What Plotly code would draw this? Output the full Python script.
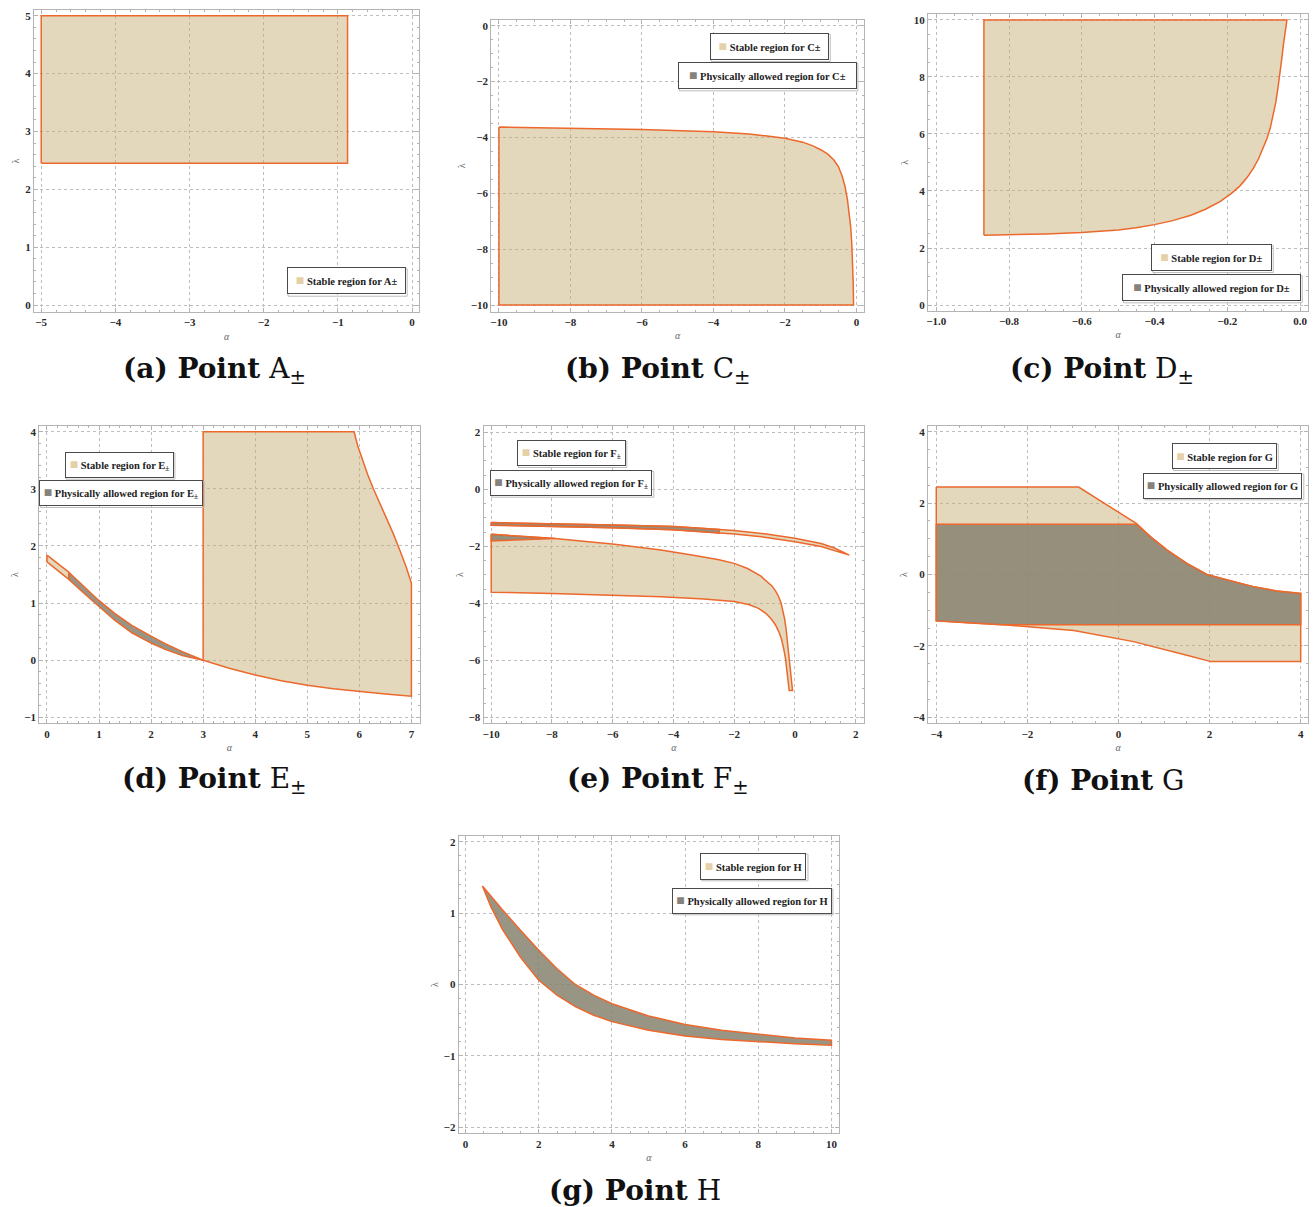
import plotly.graph_objects as go

W, H = 1314, 1207

# ---------------- data ----------------
# (a) Point A±
A_alpha = [-5.0, -0.87]
A_lambda = [2.45, 5.0]

# (b) Point C±  (upper boundary curve, bottom at lambda = -10)
C_alpha = [-10, -8, -6, -4, -3, -2.5, -2, -1.5, -1.2, -1.0, -0.8, -0.63, -0.5, -0.4, -0.32,
           -0.25, -0.2, -0.16, -0.13, -0.11, -0.09, -0.08]
C_lambda_top = [-3.63, -3.67, -3.72, -3.80, -3.88, -3.95, -4.03, -4.17, -4.31, -4.44, -4.6, -4.81,
                -5.05, -5.38, -5.75, -6.24, -6.7, -7.2, -7.8, -8.39, -9.2, -10.0]
C_lambda_bottom = -10.0

# (c) Point D±  (lower/right boundary curve, top at lambda = 10)
D_alpha = [-0.869, -0.8, -0.7, -0.6, -0.5, -0.45, -0.4, -0.35, -0.3, -0.26, -0.22, -0.19, -0.165,
           -0.145, -0.128, -0.114, -0.102, -0.091, -0.082, -0.074, -0.067, -0.061, -0.055, -0.05,
           -0.045, -0.04, -0.036]
D_lambda = [2.45, 2.46, 2.49, 2.54, 2.63, 2.71, 2.82, 2.96, 3.15, 3.36, 3.63, 3.90, 4.18,
            4.48, 4.8, 5.13, 5.47, 5.83, 6.2, 6.62, 7.08, 7.58, 8.1, 8.65,
            9.2, 9.65, 10.0]
D_lambda_top = 10.0

# (d) Point E±
E_strip_alpha = [0, 0.2, 0.42, 0.7, 0.99, 1.3, 1.63, 2.0, 2.27, 2.6, 3.0]
E_strip_upper = [1.84, 1.69, 1.54, 1.30, 1.05, 0.82, 0.61, 0.42, 0.29, 0.15, 0.0]
E_strip_lower = [1.72, 1.57, 1.415, 1.18, 0.94, 0.70, 0.48, 0.30, 0.19, 0.08, 0.0]
E_top_alpha = [3, 5.9, 5.97, 6.06, 6.16, 6.27, 6.39, 6.52, 6.65, 6.78, 6.9, 7.0]
E_top_lambda = [4, 4, 3.75, 3.5, 3.25, 3.0, 2.75, 2.5, 2.22, 1.92, 1.63, 1.35]
E_bottom_alpha = [3, 3.5, 4, 4.5, 5, 5.5, 6, 6.5, 7]
E_bottom_lambda = [0, -0.14, -0.26, -0.36, -0.44, -0.5, -0.55, -0.59, -0.63]

# (e) Point F±
F_band_alpha = [-10, -8, -6, -4, -2.49, -2, -1, 0, 0.86, 1.3, 1.79]
F_band_top = [-1.17, -1.20, -1.25, -1.31, -1.41, -1.45, -1.56, -1.72, -1.90, -2.06, -2.31]
F_band_bottom = [-1.26, -1.30, -1.35, -1.42, -1.53, -1.57, -1.68, -1.84, -2.01, -2.15, -2.31]
F_low_top_alpha = [-10, -7.9, -5.94, -4.41, -3.3, -2.5, -2.0, -1.56, -1.12, -0.9, -0.75, -0.63,
                   -0.54, -0.46, -0.40, -0.34, -0.29, -0.245, -0.205, -0.17, -0.14, -0.11, -0.08]
F_low_top_lambda = [-1.58, -1.73, -1.93, -2.13, -2.32, -2.47, -2.6, -2.78, -3.05, -3.24, -3.4, -3.58,
                    -3.76, -3.98, -4.22, -4.55, -4.92, -5.35, -5.8, -6.2, -6.55, -6.85, -7.06]
F_low_bot_alpha = [-10, -8, -6, -4.41, -3, -2.0, -1.5, -1.2, -0.95, -0.78, -0.64, -0.53, -0.44,
                   -0.37, -0.31, -0.26, -0.22, -0.19]
F_low_bot_lambda = [-3.61, -3.66, -3.71, -3.77, -3.85, -3.94, -4.05, -4.18, -4.36, -4.55, -4.76, -5.0,
                    -5.27, -5.6, -5.95, -6.35, -6.75, -7.06]
F_sliver_alpha = [-10, -9, -7.9]
F_sliver_top = [-1.58, -1.65, -1.73]
F_sliver_bottom = [-1.81, -1.77, -1.73]

# (f) Point G
G_top_alpha = [-4, -0.875, 0.39, 0.70, 1.06, 1.5, 1.94, 2.52, 2.96, 3.47, 4.0]
G_top_lambda = [2.45, 2.45, 1.43, 1.06, 0.69, 0.31, 0.0, -0.20, -0.34, -0.46, -0.53]
G_bot_alpha = [-4, -3.3, -2.59, -0.98, 0.33, 1.06, 1.5, 2.03, 4.0]
G_bot_lambda = [-1.30, -1.35, -1.40, -1.57, -1.88, -2.11, -2.26, -2.44, -2.44]
G_phys_top = 1.41
G_phys_bottom = -1.41

# (g) Point H
H_alpha = [0.46, 0.7, 1, 1.5, 2, 2.5, 3, 3.5, 4, 5, 6, 7, 8, 9, 10]
H_upper = [1.38, 1.23, 1.05, 0.76, 0.48, 0.22, 0.0, -0.15, -0.27, -0.44, -0.56, -0.64, -0.70, -0.75, -0.78]
H_lower = [1.38, 1.08, 0.78, 0.38, 0.06, -0.15, -0.31, -0.43, -0.52, -0.64, -0.72, -0.77, -0.80, -0.83, -0.85]

# ---------------- styles ----------------
TAN = "rgba(196,174,116,0.48)"
DARK = "rgba(135,130,112,0.85)"
ORANGE = "rgb(236,104,44)"
FRAME = "#b4b4b4"
GRID = "#bdbdbd"
LEG_TAN = "#e6d0a8"
LEG_DARK = "#86817a"
TICKFONT = dict(family="Liberation Serif", size=11, color="#2a2a2a", weight="bold")
CAPFONT = dict(family="DejaVu Serif", size=28, color="#111111")

fig = go.Figure()


def poly(xs, ys, fill, k, name):
    xs = list(xs) + [xs[0]]
    ys = list(ys) + [ys[0]]
    fig.add_trace(go.Scatter(
        x=xs, y=ys, mode="lines", fill="toself", fillcolor=fill,
        line=dict(color=ORANGE, width=1.5), name=name, showlegend=False,
        hoverinfo="skip", xaxis="x" + k, yaxis="y" + k))


# (a)
poly([A_alpha[0], A_alpha[1], A_alpha[1], A_alpha[0]],
     [A_lambda[0], A_lambda[0], A_lambda[1], A_lambda[1]], TAN, "", "Stable region for A±")
# (b)
poly(C_alpha + [C_alpha[-1], C_alpha[0]],
     C_lambda_top + [C_lambda_bottom, C_lambda_bottom], TAN, "2", "Stable region for C±")
# (c)
poly(D_alpha + [D_alpha[0]], D_lambda + [D_lambda_top], TAN, "3", "Stable region for D±")
# (d)
poly(E_strip_alpha[:3] + E_strip_alpha[:3][::-1], E_strip_upper[:3] + E_strip_lower[:3][::-1],
     TAN, "4", "Stable region for E±")
poly(E_strip_alpha[2:] + E_strip_alpha[2:][::-1], E_strip_upper[2:] + E_strip_lower[2:][::-1],
     DARK, "4", "Physically allowed region for E±")
poly(E_top_alpha + E_bottom_alpha[::-1], E_top_lambda + E_bottom_lambda[::-1],
     TAN, "4", "Stable region for E±")
# (e)
poly(F_band_alpha + F_band_alpha[::-1], F_band_top + F_band_bottom[::-1], TAN, "5", "Stable region for F±")
poly(F_band_alpha[:5] + F_band_alpha[:5][::-1], F_band_top[:5] + F_band_bottom[:5][::-1],
     DARK, "5", "Physically allowed region for F±")
poly(F_low_top_alpha + F_low_bot_alpha[::-1], F_low_top_lambda + F_low_bot_lambda[::-1],
     TAN, "5", "Stable region for F±")
poly(F_sliver_alpha + F_sliver_alpha[::-1], F_sliver_top + F_sliver_bottom[::-1],
     DARK, "5", "Physically allowed region for F±")
# (f)
poly(G_top_alpha + G_bot_alpha[::-1], G_top_lambda + G_bot_lambda[::-1], TAN, "6", "Stable region for G")
gx = [G_top_alpha[0], G_top_alpha[2]] + G_top_alpha[3:] + [G_top_alpha[-1], G_bot_alpha[2]] + G_bot_alpha[1::-1]
gy = [G_phys_top, G_phys_top] + G_top_lambda[3:] + [G_phys_bottom, G_phys_bottom] + G_bot_lambda[1::-1]
poly(gx, gy, DARK, "6", "Physically allowed region for G")
# (g)
poly(H_alpha + H_alpha[::-1], H_upper + H_lower[::-1], DARK, "7", "Physically allowed region for H")

# ---------------- axes ----------------
panels = [
    # key, px range, py range, x range, y range, x dtick, y dtick, x format
    ("", (32, 418), (10, 312), [-5.098, 0.098], [-0.121, 5.099], 1, 1, None),
    ("2", (490, 863.3), (20, 311.7), [-10.215, 0.212], [-10.24, 0.204], 2, 2, None),
    ("3", (927.3, 1308.3), (14, 310.7), [-1.023, 0.0228], [-0.2, 10.21], 0.2, 2, ".1f"),
    ("4", (37.3, 418.3), (425.7, 723.3), [-0.148, 7.159], [-1.105, 4.105], 1, 1, None),
    ("5", (482.3, 863.3), (425.7, 723.3), [-10.253, 2.273], [-8.21, 2.23], 2, 2, None),
    ("6", (927.3, 1308.3), (425.7, 723.3), [-4.184, 4.167], [-4.168, 4.168], 2, 2, None),
    ("7", (457.3, 838.3), (835.7, 1133.3), [-0.191, 10.207], [-2.084, 2.084], 2, 1, None),
]


def common(dt):
    return dict(
        showline=True, linecolor=FRAME, linewidth=1, mirror="allticks",
        ticks="inside", ticklen=4, tickwidth=1, tickcolor=FRAME,
        showgrid=True, gridcolor=GRID, griddash="3px,3px", gridwidth=1,
        zeroline=False, tickfont=TICKFONT, fixedrange=True, tick0=0, dtick=dt,
        minor=dict(ticks="inside", ticklen=2, tickcolor=FRAME, showgrid=False,
                   dtick=dt / 5 if dt == 1 else dt / 4),
    )


layout = {}
for k, (x0, x1), (y0, y1), xr, yr, xdt, ydt, xfmt in panels:
    xa = common(xdt)
    xa.update(domain=[x0 / W, x1 / W], range=xr, anchor="y" + k,
              title=dict(text="α", standoff=5,
                         font=dict(family="Liberation Serif", size=10, color="#666666", style="italic")))
    if xfmt:
        xa["tickformat"] = xfmt
    ya = common(ydt)
    ya.update(domain=[1 - y1 / H, 1 - y0 / H], range=yr, anchor="x" + k,
              title=dict(text="λ", standoff=3,
                         font=dict(family="Liberation Serif", size=10, color="#666666")))
    layout["xaxis" + k] = xa
    layout["yaxis" + k] = ya

fig.update_layout(**layout)

# ---------------- legends (boxes) ----------------
legends = [
    ((285, 404.3, 267.3, 294.7), LEG_TAN, "Stable region for A±"),
    ((708.7, 828, 32.7, 60), LEG_TAN, "Stable region for C±"),
    ((677, 855.7, 62, 89.3), LEG_DARK, "Physically allowed region for C±"),
    ((1151, 1271.7, 244.3, 271), LEG_TAN, "Stable region for D±"),
    ((1121.7, 1300.7, 274.3, 301.3), LEG_DARK, "Physically allowed region for D±"),
    ((62.7, 171.7, 451.7, 477.7), LEG_TAN, "Stable region for E<sub>±</sub>"),
    ((37.3, 201, 480, 506), LEG_DARK, "Physically allowed region for E<sub>±</sub>"),
    ((515.7, 624.3, 440, 466), LEG_TAN, "Stable region for F<sub>±</sub>"),
    ((489, 651.3, 470, 495.7), LEG_DARK, "Physically allowed region for F<sub>±</sub>"),
    ((1171.7, 1276.7, 442.7, 469), LEG_TAN, "Stable region for G"),
    ((1143.3, 1302.3, 472.7, 498.3), LEG_DARK, "Physically allowed region for G"),
    ((699.3, 805.7, 852.7, 879.3), LEG_TAN, "Stable region for H"),
    ((670.7, 830.7, 887.7, 913.3), LEG_DARK, "Physically allowed region for H"),
]
shapes = []
annotations = []
for (x0, x1, y0, y1), col, label in legends:
    shapes.append(dict(type="rect", xref="paper", yref="paper",
                       x0=(x0 + 1.5) / W, x1=(x1 + 1.5) / W, y0=1 - (y1 + 1.5) / H, y1=1 - (y0 + 1.5) / H,
                       line=dict(color="#bdbdbd", width=1), fillcolor="rgba(0,0,0,0)"))
    annotations.append(dict(
        xref="paper", yref="paper", x=(x0 + x1) / 2 / W, y=1 - (y0 + y1) / 2 / H,
        xanchor="center", yanchor="middle", showarrow=False,
        text=f'<span style="color:{col};font-size:14px">■</span> {label}',
        font=dict(family="Liberation Serif", size=10.5, color="#222222", weight="bold"),
        bgcolor="white", bordercolor="#4a4a4a", borderwidth=1, borderpad=0,
        width=x1 - x0 - 2, height=y1 - y0 - 2, align="center", valign="middle"))

# ---------------- captions ----------------
captions = [
    (212.5, 371, "(a) Point", "A"),
    (656.5, 371, "(b) Point", "C"),
    (1101.5, 371, "(c) Point", "D"),
    (212.5, 780, "(d) Point", "E"),
    (657.5, 780, "(e) Point", "F"),
    (1103, 780, "(f) Point", "G"),
    (634, 1190, "(g) Point", "H"),
]
for cx, cy, head, pt in captions:
    sub = "" if pt in ("G", "H") else "<sub>±</sub>"
    annotations.append(dict(
        xref="paper", yref="paper", x=cx / W, y=1 - cy / H, xanchor="center", yanchor="middle",
        showarrow=False, text=f"<b>{head}</b> {pt}{sub}", font=CAPFONT))

fig.update_layout(
    width=W, height=H, margin=dict(l=0, r=0, t=0, b=0),
    paper_bgcolor="white", plot_bgcolor="white", showlegend=False,
    shapes=shapes, annotations=annotations,
)

fig.write_html("out.html", config={"displayModeBar": False},
               post_script="document.body.style.margin='0px';document.body.style.overflow='hidden';")
